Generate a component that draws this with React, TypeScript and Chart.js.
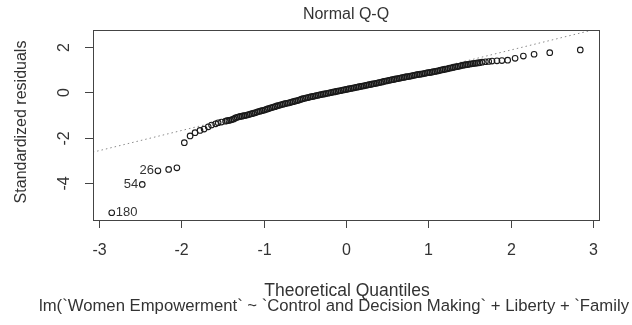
import React, { useEffect, useRef } from "react";
import { Chart, registerables } from "chart.js";

Chart.register(...registerables);

// Theoretical quantiles (x) and sorted standardized residuals (y)
const qqX: number[] = [
  -2.84, -2.47, -2.28, -2.15, -2.05, -1.96, -1.89, -1.83, -1.77, -1.72, -1.67, -1.63, -1.58, -1.55, -1.51,
  -1.46, -1.44, -1.42, -1.40, -1.38, -1.36, -1.34, -1.32, -1.30, -1.28, -1.26, -1.24, -1.22, -1.20, -1.18, -1.16,
  -1.14, -1.12, -1.10, -1.08, -1.06, -1.04, -1.02, -1.00, -0.98, -0.96, -0.94, -0.92, -0.90, -0.88, -0.86, -0.84,
  -0.82, -0.80, -0.78, -0.76, -0.74, -0.72, -0.70, -0.68, -0.66, -0.64, -0.62, -0.60, -0.58, -0.56, -0.54, -0.52,
  -0.50, -0.48, -0.46, -0.44, -0.42, -0.40, -0.38, -0.36, -0.34, -0.32, -0.30, -0.28, -0.26, -0.24, -0.22, -0.20,
  -0.18, -0.16, -0.14, -0.12, -0.10, -0.08, -0.06, -0.04, -0.02, 0.00, 0.02, 0.04, 0.06, 0.08, 0.10, 0.12,
  0.14, 0.16, 0.18, 0.20, 0.22, 0.24, 0.26, 0.28, 0.30, 0.32, 0.34, 0.36, 0.38, 0.40, 0.42, 0.44,
  0.46, 0.48, 0.50, 0.52, 0.54, 0.56, 0.58, 0.60, 0.62, 0.64, 0.66, 0.68, 0.70, 0.72, 0.74, 0.76,
  0.78, 0.80, 0.82, 0.84, 0.86, 0.88, 0.90, 0.92, 0.94, 0.96, 0.98, 1.00, 1.02, 1.04, 1.06, 1.08,
  1.10, 1.12, 1.14, 1.16, 1.18, 1.20, 1.22, 1.24, 1.26, 1.28, 1.30, 1.32, 1.34, 1.36, 1.38, 1.40,
  1.42, 1.44, 1.46, 1.48, 1.50, 1.52, 1.54, 1.56, 1.58, 1.60, 1.62,
  1.65, 1.69, 1.73, 1.77, 1.83, 1.89, 1.96, 2.05, 2.15, 2.28, 2.47, 2.84,
];
const qqY: number[] = [
  -5.31, -4.06, -3.46, -3.40, -3.33, -2.22, -1.92, -1.78, -1.68, -1.62, -1.52, -1.44, -1.39, -1.34, -1.31,
  -1.27, -1.25, -1.24, -1.22, -1.20, -1.17, -1.13, -1.10, -1.08, -1.06, -1.05, -1.03, -1.02, -1.00, -0.98, -0.96,
  -0.94, -0.92, -0.90, -0.87, -0.85, -0.83, -0.81, -0.79, -0.77, -0.74, -0.72, -0.69, -0.67, -0.65, -0.63, -0.60,
  -0.58, -0.56, -0.54, -0.52, -0.50, -0.48, -0.47, -0.45, -0.43, -0.41, -0.39, -0.37, -0.35, -0.33, -0.30, -0.28,
  -0.26, -0.24, -0.23, -0.21, -0.19, -0.18, -0.16, -0.14, -0.13, -0.11, -0.10, -0.08, -0.07, -0.05, -0.04, -0.02,
  -0.01, 0.01, 0.02, 0.04, 0.05, 0.07, 0.08, 0.10, 0.11, 0.13, 0.14, 0.16, 0.17, 0.19, 0.20, 0.22,
  0.23, 0.25, 0.26, 0.28, 0.29, 0.31, 0.32, 0.34, 0.35, 0.37, 0.38, 0.40, 0.41, 0.43, 0.44, 0.46,
  0.48, 0.50, 0.51, 0.53, 0.54, 0.56, 0.57, 0.59, 0.60, 0.62, 0.63, 0.65, 0.66, 0.68, 0.69, 0.70,
  0.72, 0.73, 0.75, 0.76, 0.78, 0.79, 0.80, 0.81, 0.83, 0.84, 0.86, 0.87, 0.88, 0.89, 0.91, 0.92,
  0.94, 0.95, 0.97, 0.99, 1.00, 1.02, 1.03, 1.05, 1.07, 1.08, 1.10, 1.12, 1.13, 1.15, 1.16, 1.18,
  1.20, 1.21, 1.22, 1.23, 1.25, 1.26, 1.27, 1.28, 1.29, 1.30, 1.31,
  1.33, 1.35, 1.36, 1.38, 1.39, 1.40, 1.42, 1.50, 1.60, 1.68, 1.75, 1.87,
];

// Reference line (qqline) end points
const lineX: number[] = [-3.07, 3.07];
const lineY: number[] = [-2.64, 2.82];

const xTicks: number[] = [-3, -2, -1, 0, 1, 2, 3];
const yTicks: number[] = [-4, -2, 0, 2];

const pointLabelIdx: number[] = [0, 1, 2];
const pointLabelText: string[] = ["180", "54", "26"];
const pointLabelSide: string[] = ["right", "left", "left"];

const titleText = "Normal Q-Q";
const xTitle = "Theoretical Quantiles";
const yTitle = "Standardized residuals";
const subTitle = "lm(`Women Empowerment` ~ `Control and Decision Making` + Liberty + `Family";

const FONT = "'Liberation Sans', Arial, sans-serif";
const TEXT = "#333";

const framePlugin = {
  id: "rframe",
  afterDraw(chart: any) {
    const { ctx, chartArea: a, scales } = chart;
    const xs = scales.x;
    const ys = scales.y;
    ctx.save();
    ctx.strokeStyle = "#444";
    ctx.lineWidth = 1;
    ctx.strokeRect(Math.round(a.left) + 0.5, Math.round(a.top) + 0.5, Math.round(a.right - a.left), Math.round(a.bottom - a.top));

    ctx.fillStyle = TEXT;
    ctx.font = `16px ${FONT}`;
    ctx.textAlign = "center";
    ctx.textBaseline = "middle";
    xTicks.forEach((t) => {
      const px = Math.round(xs.getPixelForValue(t)) + 0.5;
      ctx.beginPath();
      ctx.moveTo(px, a.bottom);
      ctx.lineTo(px, a.bottom + 8);
      ctx.stroke();
      ctx.fillText(String(t), px, a.bottom + 31);
    });
    yTicks.forEach((t) => {
      const py = Math.round(ys.getPixelForValue(t)) + 0.5;
      ctx.beginPath();
      ctx.moveTo(a.left, py);
      ctx.lineTo(a.left - 8, py);
      ctx.stroke();
      ctx.save();
      ctx.translate(a.left - 28, py);
      ctx.rotate(-Math.PI / 2);
      ctx.fillText(String(t), 0, 0);
      ctx.restore();
    });
    const cx = (a.left + a.right) / 2;
    ctx.fillText(titleText, cx, 15);
    ctx.font = `17.5px ${FONT}`;
    ctx.fillText(xTitle, cx + 1, 291);
    ctx.font = `16.7px ${FONT}`;
    ctx.fillText(subTitle, 334, 306);
    ctx.font = `16px ${FONT}`;
    ctx.save();
    ctx.translate(22, (a.top + a.bottom) / 2 - 3);
    ctx.rotate(-Math.PI / 2);
    ctx.fillText(yTitle, 0, 0);
    ctx.restore();

    ctx.font = `13px ${FONT}`;
    pointLabelIdx.forEach((idx, k) => {
      const px = xs.getPixelForValue(qqX[idx]);
      const py = ys.getPixelForValue(qqY[idx]);
      if (pointLabelSide[k] === "right") {
        ctx.textAlign = "left";
        ctx.fillText(pointLabelText[k], px + 4, py);
      } else {
        ctx.textAlign = "right";
        ctx.fillText(pointLabelText[k], px - 4, py);
      }
    });
    ctx.restore();
  },
};

export default function App() {
  const ref = useRef<HTMLCanvasElement | null>(null);
  useEffect(() => {
    if (!ref.current) return;
    const pts = qqX.map((x, i) => ({ x, y: qqY[i] }));
    const linePts = lineX.map((x, i) => ({ x, y: lineY[i] }));
    const chart = new Chart(ref.current, {
      type: "scatter",
      data: {
        datasets: [
          {
            data: linePts,
            showLine: true,
            borderColor: "#8a8a8a",
            borderWidth: 1,
            borderDash: [1.5, 3],
            pointRadius: 0,
            fill: false,
            order: 2,
          } as any,
          {
            data: pts,
            pointStyle: "circle",
            pointRadius: 2.8,
            pointBorderWidth: 1.1,
            borderColor: "#1a1a1a",
            backgroundColor: "rgba(0,0,0,0)",
            pointBackgroundColor: "rgba(0,0,0,0)",
            pointBorderColor: "#1a1a1a",
            order: 1,
          } as any,
        ],
      },
      options: {
        animation: false,
        responsive: false,
        layout: { padding: { left: 93, right: 33, top: 30, bottom: 105 } },
        scales: {
          x: { type: "linear", min: -3.067, max: 3.067, display: false },
          y: { type: "linear", min: -5.63, max: 2.75, display: false },
        },
        plugins: { legend: { display: false }, tooltip: { enabled: false } },
      },
      plugins: [framePlugin],
    });
    return () => chart.destroy();
  }, []);
  return (
    <div style={{ position: "fixed", left: 0, top: 0, width: 632, height: 325, background: "#fff" }}>
      <canvas ref={ref} width={632} height={325} />
    </div>
  );
}
